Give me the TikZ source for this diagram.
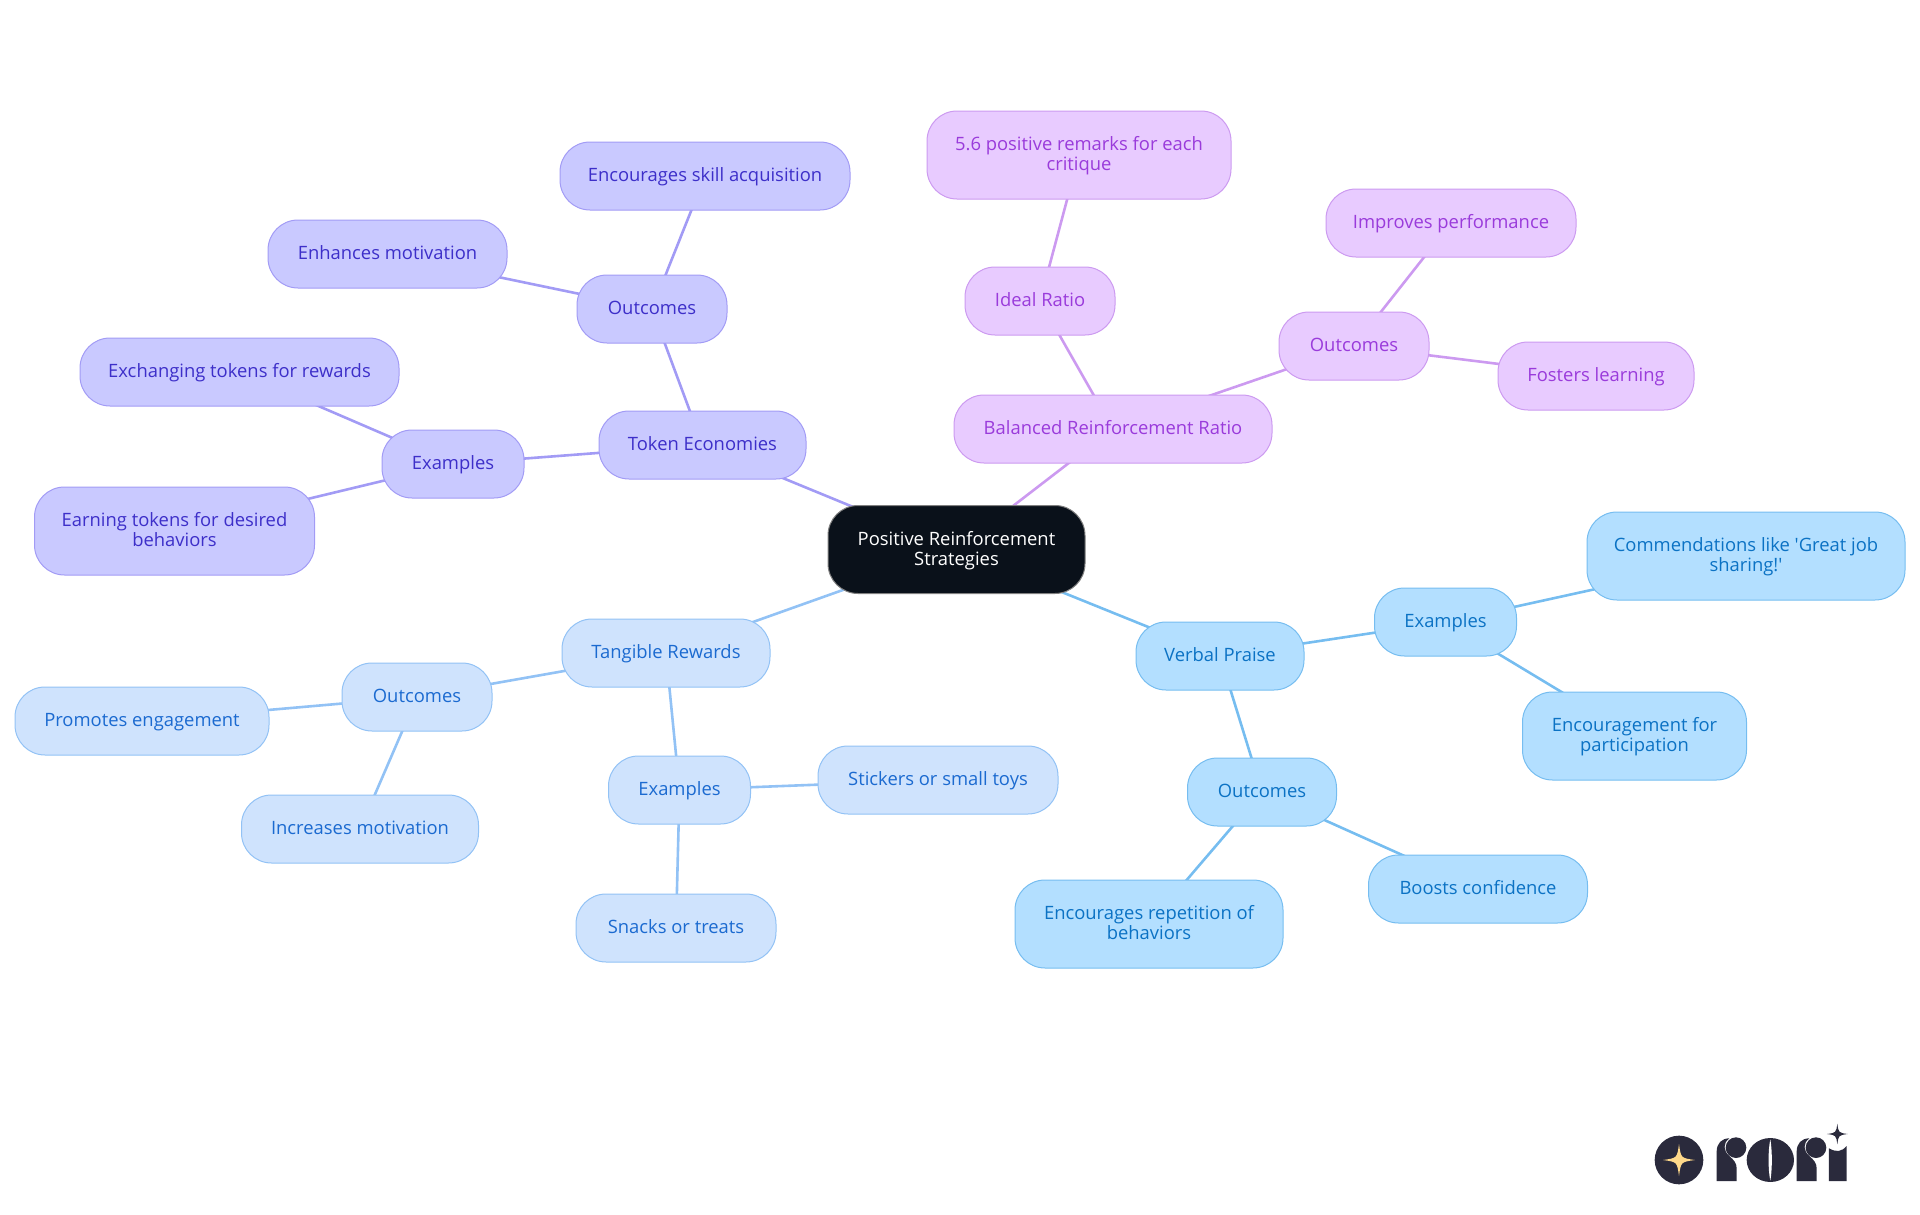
\documentclass[tikz,border=0pt]{standalone}
\usepackage{fontspec}
\setmainfont{Open Sans}[Ligatures=TeXOff]
\usetikzlibrary{backgrounds}
\definecolor{tokF}{HTML}{C9C9FF}\definecolor{tokS}{HTML}{A29BF5}\definecolor{tokT}{HTML}{3D2FC9}
\definecolor{tanF}{HTML}{CFE3FD}\definecolor{tanS}{HTML}{92C2F5}\definecolor{tanT}{HTML}{1B6AD0}
\definecolor{verF}{HTML}{B3DFFF}\definecolor{verS}{HTML}{76BDF0}\definecolor{verT}{HTML}{0B72C4}
\definecolor{balF}{HTML}{E8CBFF}\definecolor{balS}{HTML}{CC9AF0}\definecolor{balT}{HTML}{9A3BDB}
\definecolor{rootF}{HTML}{0A111A}\definecolor{logoD}{HTML}{2A2A3C}\definecolor{logoY}{HTML}{FFD98A}
\tikzset{
  x=1pt,y=-1pt,
  mm/.style={rectangle,rounded corners=30pt,inner sep=0pt,line width=1pt,align=center,
    font=\fontsize{18.4}{20}\selectfont,minimum height=68pt,
    text height=16.5pt,text depth=5pt},
  dbl/.style={minimum height=88pt,text height=36pt,text depth=5pt},
  w/.style={minimum width=#1 pt},
  tok/.style={mm,fill=tokF,draw=tokS,text=tokT},
  tan/.style={mm,fill=tanF,draw=tanS,text=tanT},
  ver/.style={mm,fill=verF,draw=verS,text=verT},
  bal/.style={mm,fill=balF,draw=balS,text=balT},
  rootn/.style={mm,dbl,fill=rootF,draw=gray,text=white},
  tokE/.style={draw=tokS,line width=2.6pt},
  tanE/.style={draw=tanS,line width=2.6pt},
  verE/.style={draw=verS,line width=2.6pt},
  balE/.style={draw=balS,line width=2.6pt},
}
\newcommand{\fourstar}[4]{\fill[#4] (#1,#2-#3) .. controls (#1+.12*#3,#2-.12*#3) .. (#1+#3,#2) .. controls (#1+.12*#3,#2+.12*#3) .. (#1,#2+#3) .. controls (#1-.12*#3,#2+.12*#3) .. (#1-#3,#2) .. controls (#1-.12*#3,#2-.12*#3) .. cycle;}
\begin{document}
\begin{tikzpicture}
\useasboundingbox (0,0) rectangle (1920,1215);
\node[rootn,w=257] (root) at (956.5,549.5) {Positive Reinforcement\\Strategies};
% token
\node[tok,w=207] (te) at (702.5,445) {Token Economies};
\node[tok,w=150] (teo) at (652,309) {Outcomes};
\node[tok,w=290] (teo1) at (705,176) {Encourages skill acquisition};
\node[tok,w=239] (teo2) at (387.5,254) {Enhances motivation};
\node[tok,w=142] (tex) at (453,464) {Examples};
\node[tok,w=319] (tex1) at (239.5,372) {Exchanging tokens for rewards};
\node[tok,dbl,w=280] (tex2) at (174.5,531) {Earning tokens for desired\\behaviors};
% tangible
\node[tan,w=208] (tr) at (666,653) {Tangible Rewards};
\node[tan,w=150] (tro) at (417,697) {Outcomes};
\node[tan,w=254] (tro1) at (142,721) {Promotes engagement};
\node[tan,w=237] (tro2) at (360,829) {Increases motivation};
\node[tan,w=142] (trx) at (679.5,790) {Examples};
\node[tan,w=240] (trx1) at (938,780) {Stickers or small toys};
\node[tan,w=200] (trx2) at (676,928) {Snacks or treats};
% verbal
\node[ver,w=168] (vp) at (1220,656) {Verbal Praise};
\node[ver,w=142] (vpx) at (1445.5,622) {Examples};
\node[ver,dbl,w=318] (vpx1) at (1746,556) {Commendations like 'Great job\\sharing!'};
\node[ver,dbl,w=224] (vpx2) at (1634.5,736) {Encouragement for\\participation};
\node[ver,w=149] (vpo) at (1262,792) {Outcomes};
\node[ver,dbl,w=268] (vpo1) at (1149,924) {Encourages repetition of\\behaviors};
\node[ver,w=219] (vpo2) at (1478,889) {Boosts confidence};
% balanced
\node[bal,w=318] (br) at (1113,429) {Balanced Reinforcement Ratio};
\node[bal,w=150] (ir) at (1040,301) {Ideal Ratio};
\node[bal,dbl,w=304] (ir1) at (1079,155) {5.6 positive remarks for each\\critique};
\node[bal,w=150] (bro) at (1354,346) {Outcomes};
\node[bal,w=250] (bro1) at (1451,223) {Improves performance};
\node[bal,w=196] (bro2) at (1596,376) {Fosters learning};
\begin{scope}[on background layer]
\draw[tokE] (root.center) -- (te.center);
\draw[tokE] (te.center) -- (teo.center);
\draw[tokE] (teo.center) -- (teo1.center);
\draw[tokE] (teo.center) -- (teo2.center);
\draw[tokE] (te.center) -- (tex.center);
\draw[tokE] (tex.center) -- (tex1.center);
\draw[tokE] (tex.center) -- (tex2.center);
\draw[tanE] (root.center) -- (tr.center);
\draw[tanE] (tr.center) -- (tro.center);
\draw[tanE] (tro.center) -- (tro1.center);
\draw[tanE] (tro.center) -- (tro2.center);
\draw[tanE] (tr.center) -- (trx.center);
\draw[tanE] (trx.center) -- (trx1.center);
\draw[tanE] (trx.center) -- (trx2.center);
\draw[verE] (root.center) -- (vp.center);
\draw[verE] (vp.center) -- (vpx.center);
\draw[verE] (vpx.center) -- (vpx1.center);
\draw[verE] (vpx.center) -- (vpx2.center);
\draw[verE] (vp.center) -- (vpo.center);
\draw[verE] (vpo.center) -- (vpo1.center);
\draw[verE] (vpo.center) -- (vpo2.center);
\draw[balE] (root.center) -- (br.center);
\draw[balE] (br.center) -- (ir.center);
\draw[balE] (ir.center) -- (ir1.center);
\draw[balE] (br.center) -- (bro.center);
\draw[balE] (bro.center) -- (bro1.center);
\draw[balE] (bro.center) -- (bro2.center);
\end{scope}
% logo
\begin{scope}[shift={(1620,1100)},x=0.3333pt,y=-0.3333pt]
\fill[logoD] (177,180) circle [radius=73];
\fourstar{177}{180}{48}{logoY}
% first r
\fill[logoD] (290,243) -- (290,155) .. controls (290,130) and (305,115) .. (328,115) .. controls (308,130) and (310,152) .. (328,168) .. controls (342,180) and (350,190) .. (350,205) -- (350,243) -- cycle;
\fill[logoD] (348,143) circle [radius=31];
% o
\fill[logoD] (451,180) ellipse [x radius=71,y radius=66];
\fill[white] (451,118) .. controls (444,150) and (444,210) .. (451,242) .. controls (457,210) and (457,150) .. cycle;
% second r
\fill[logoD] (530,243) -- (530,155) .. controls (530,130) and (545,115) .. (568,115) .. controls (548,130) and (550,152) .. (568,168) .. controls (582,180) and (590,190) .. (590,205) -- (590,243) -- cycle;
\fill[logoD] (588,143) circle [radius=31];
% i
\fill[logoD] (627,243) -- (627,145) .. controls (650,158) and (665,155) .. (680,138) -- (680,243) -- cycle;
\fourstar{652}{102}{31}{logoD}
\end{scope}
\end{tikzpicture}
\end{document}
